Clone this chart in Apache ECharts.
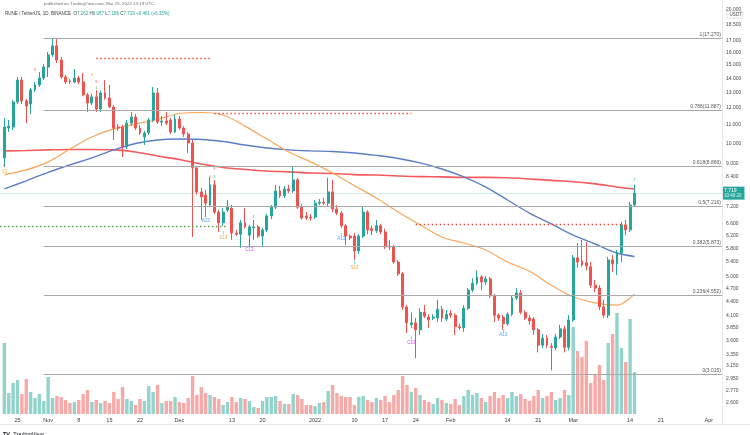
<!DOCTYPE html>
<html>
<head>
<meta charset="utf-8">
<script src="https://cdn.jsdelivr.net/npm/echarts@6/dist/echarts.min.js"></script>
<style>
html,body{margin:0;padding:0;background:#ffffff;}
#chart{width:750px;height:435px;}
</style>
</head>
<body>
<div id="chart"></div>
<script>
// ---------------- data ----------------
const symbolName = 'RUNE / TetherUS, 1D, BINANCE';
const firstCandleDate = '2021-10-22';
const axisStartDate = '2021-10-21';
const axisEndDate = '2022-04-04';

const opens = [
  9.27,10.82,10.88,12.39,13.88,12.45,12.26,13.18,13.53,14.03,
  14.85,15.81,16.57,15.40,14.10,13.81,13.74,14.03,13.74,12.85,
  12.32,12.72,11.94,12.98,12.65,12.07,10.88,10.88,9.81,11.10,
  11.46,10.82,10.33,10.55,11.28,12.98,11.16,11.22,11.28,10.60,
  11.34,10.82,10.49,10.01,8.80,7.77,7.65,7.26,8.06,7.00,
  6.62,7.07,7.14,6.28,6.24,6.62,6.21,6.45,6.48,6.18,
  6.38,6.86,7.18,7.81,7.61,7.89,7.81,8.27,7.18,6.86,
  6.82,6.82,7.33,7.37,7.33,7.77,7.11,6.96,6.52,6.18,
  6.18,5.72,6.18,7.00,6.42,6.35,6.52,6.31,5.87,5.84,
  5.40,5.08,4.28,3.90,3.94,3.80,4.16,4.06,4.04,4.04,
  4.23,4.02,4.14,4.10,3.86,3.84,4.25,4.67,4.84,5.00,
  4.87,4.95,4.53,4.10,4.06,3.92,4.12,4.48,4.60,4.16,
  4.04,4.02,3.80,3.51,3.64,3.49,3.46,3.66,3.82,3.47,
  4.00,5.52,5.43,5.38,5.27,4.79,4.72,4.28,4.10,5.46,
  5.35,5.66,6.55,6.38,7.262
];
const closes = [
  10.88,10.93,12.39,13.88,12.45,12.13,13.18,13.53,14.03,14.85,
  15.81,16.57,15.40,14.10,13.74,13.74,14.03,13.74,12.85,12.32,
  12.72,11.94,12.98,12.65,12.07,10.82,10.82,9.81,11.10,11.46,
  10.82,10.55,10.55,11.28,12.98,11.16,11.22,11.10,10.60,11.34,
  10.82,10.49,10.01,8.80,7.77,7.57,7.33,8.06,7.00,6.62,
  7.00,7.18,6.28,6.24,6.62,6.48,6.48,6.48,6.18,6.38,
  6.86,7.18,7.81,7.61,7.89,7.81,8.27,7.18,6.79,6.79,
  6.79,7.33,7.37,7.33,7.77,7.11,6.96,6.52,6.18,6.12,
  5.72,6.18,7.00,6.38,6.35,6.52,6.31,5.84,5.84,5.40,
  5.08,4.28,3.94,3.94,3.80,4.16,4.08,4.00,4.06,4.23,
  4.04,4.12,4.10,3.86,3.84,4.25,4.67,4.84,5.00,4.87,
  4.95,4.53,4.10,4.04,3.92,4.12,4.48,4.60,4.16,4.04,
  3.98,3.80,3.51,3.64,3.51,3.47,3.66,3.82,3.47,4.00,
  5.52,5.40,5.32,5.29,4.79,4.72,4.28,4.10,5.46,5.35,
  5.66,6.55,6.38,7.258,7.719
];
const lows = [
  8.85,10.60,10.71,12.26,12.26,11.10,11.64,13.05,13.39,13.88,
  14.10,15.65,15.16,13.95,13.60,13.60,13.67,13.60,12.78,11.76,
  12.19,11.76,11.76,12.52,12.00,10.17,10.66,9.31,9.71,10.93,
  10.71,10.44,9.91,10.44,11.16,11.05,10.93,10.99,10.49,10.55,
  10.71,10.33,9.51,6.15,7.65,6.72,6.82,7.18,6.93,6.31,
  6.52,7.00,6.06,6.18,5.81,6.42,5.87,6.06,6.12,5.84,
  6.31,6.75,7.11,7.53,7.53,7.73,7.73,7.11,6.72,6.72,
  6.69,6.75,7.26,7.26,7.22,7.00,6.89,6.45,5.90,6.06,
  5.46,5.63,6.12,6.24,6.21,6.28,6.24,5.78,5.75,5.35,
  5.02,4.21,3.74,3.84,3.28,3.70,4.04,3.84,4.00,3.96,
  3.96,3.98,4.04,3.70,3.80,3.76,4.21,4.62,4.79,4.67,
  4.79,4.48,3.96,3.98,3.80,3.88,4.08,4.44,4.12,4.00,
  3.90,3.70,3.38,3.46,3.46,3.08,3.42,3.62,3.38,3.42,
  3.96,5.24,5.27,5.18,4.72,4.62,4.21,4.04,4.04,5.13,
  5.05,5.40,6.21,6.31,7.186
];
const highs = [
  11.40,11.28,12.52,14.10,14.10,12.59,13.32,13.74,14.47,15.09,
  16.06,17.20,17.27,15.65,14.25,13.95,14.70,14.18,14.40,12.98,
  12.92,13.18,13.12,13.88,13.53,12.19,11.05,10.99,11.28,11.76,
  11.64,10.99,10.66,11.40,13.39,13.32,11.52,11.76,11.40,11.58,
  11.52,10.93,10.60,10.17,8.89,7.93,7.85,8.40,8.27,7.07,
  7.14,7.45,7.26,6.38,6.72,7.14,6.55,6.72,6.55,6.45,
  6.93,7.26,8.06,8.02,8.02,8.06,8.89,8.36,7.30,7.00,
  6.93,7.45,7.49,7.53,8.36,8.27,7.26,7.04,6.58,6.24,
  6.28,6.24,7.22,7.07,6.52,6.72,6.58,6.42,6.06,5.90,
  5.46,5.13,4.32,4.16,4.04,4.25,4.32,4.12,4.12,4.44,
  4.30,4.21,4.21,4.14,3.92,4.32,4.72,4.97,5.18,5.05,
  5.03,5.00,4.58,4.14,4.10,4.16,4.53,4.72,4.67,4.21,
  4.10,4.06,3.84,3.72,3.70,3.55,3.72,3.90,3.88,4.10,
  5.60,5.96,6.06,5.99,5.40,4.92,4.79,4.44,5.54,5.60,
  5.75,6.65,6.72,7.37,8.067
];
const volumes = [
  71,21,31,34,20,35,22,16,20,13,
  37,16,18,17,14,11,12,14,20,24,
  12,14,11,13,11,22,15,27,15,13,
  9,15,13,28,22,29,11,13,13,17,
  12,11,16,38,19,27,21,19,17,15,
  9,12,17,12,16,15,13,7,6,13,
  17,17,18,13,10,10,20,19,15,9,
  9,8,11,12,23,29,21,18,17,17,
  9,17,18,14,12,16,14,18,12,19,
  24,38,29,22,26,19,14,12,10,16,
  14,11,10,15,9,18,24,19,21,16,
  12,18,22,16,19,16,22,18,20,15,
  13,18,24,16,18,22,14,16,24,19,
  87,63,57,73,31,39,49,34,71,80,
  101,66,52,95,42
];

// moving averages, read every 5th day (day offsets from first candle)
const maSampleDays = [0,5,10,15,20,25,30,35,40,45,50,55,60,65,70,75,80,85,90,95,100,105,110,115,120,125,130,135,140,144];
const ma50 = [8.50,8.71,9.08,9.71,10.33,10.77,11.05,11.31,11.67,11.73,11.58,10.93,10.22,9.56,9.08,8.57,8.02,7.53,7.00,6.55,6.15,5.96,5.75,5.40,5.15,4.79,4.51,4.37,4.32,4.58];
const ma100 = [7.89,8.23,8.60,8.94,9.27,9.66,9.99,10.17,10.22,10.20,10.09,9.91,9.76,9.66,9.61,9.58,9.51,9.39,9.24,9.03,8.75,8.40,7.97,7.45,6.96,6.58,6.21,5.93,5.66,5.56];
const ma200 = [9.61,9.63,9.66,9.68,9.68,9.66,9.56,9.36,9.19,8.98,8.82,8.73,8.66,8.62,8.57,8.55,8.50,8.48,8.44,8.41,8.40,8.38,8.38,8.36,8.31,8.25,8.19,8.10,7.97,7.89];

// price axis tick labels
const priceTicks = [20,18.5,17,16,15,14,13,12,11,10,9,8.4,7.2,6.6,6.2,5.8,5.4,5,4.7,4.4,4.1,3.85,3.6,3.35,3.15,2.95,2.77,2.6];

// Fibonacci retracement
const fibStartDate = '2021-10-31';
const fibRatios = ['1','0.786','0.618','0.5','0.382','0.236','0'];
const fibPrices = [17.270,11.887,8.866,7.216,5.873,4.552,3.015];

// TD support / resistance levels
const levelStarts = ['2021-11-12','2021-12-09','2021-10-21','2022-01-24'];
const levelEnds   = ['2021-12-08','2022-01-23','2021-12-12','2022-03-12'];
const levelPrices = [15.56,11.70,6.49,6.58];
const levelKinds  = ['resistance','resistance','support','resistance'];

// TD sequential labels
const markDates  = ['2021-10-22','2021-10-22','2021-12-07','2021-12-11','2021-12-17','2022-01-07','2022-01-10','2022-01-23','2022-02-13','2022-03-15',
                    '2021-10-29','2021-11-11','2021-11-12','2021-11-12','2021-12-08','2021-12-09','2021-12-09',
                    '2021-12-07','2021-12-11','2021-12-17','2021-12-18','2022-01-07','2022-01-10','2022-01-23','2022-02-13'];
const markPrices = [8.88,8.62,6.70,6.12,5.75,6.09,5.24,3.56,3.70,8.27,
                    14.62,14.25,13.74,13.32,8.40,8.75,8.40,
                    6.85,6.28,5.87,6.82,6.22,5.38,3.64,3.78];
const markTexts  = ['9','13','A13','S13','C13','A13','S13','C13','A13','7',
                    '9','8','9','1','8','9','1',
                    '1','1','1','1','1','1','1','1'];
const markKinds  = ['sell','S','A','S','C','A','S','C','A','up',
                    'sell','S','sell','up','S','sell','up',
                    'up','up','up','up','up','up','up','up'];

// time axis labels
const timeTickDates  = ['2021-10-25','2021-11-01','2021-11-08','2021-11-15','2021-11-22','2021-12-01','2021-12-13','2021-12-20','2022-01-01','2022-01-10','2022-01-17','2022-01-24','2022-02-01','2022-02-14','2022-02-21','2022-03-01','2022-03-14','2022-03-21','2022-04-01'];
const timeTickLabels = ['25','Nov','8','15','22','Dec','13','20','2022','10','17','24','Feb','14','21','Mar','14','21','Apr'];

const countdownText = '10:40:20';
const publishedText = 'published on TradingView.com, Mar 15, 2022 13:19 UTC';

// ---------------- build ----------------
const UP = '#26a69a', DOWN = '#ef5350';
const FONT = 'Liberation Sans, Arial, sans-serif';
const DAY = 86400000;
const categories = [];
for (let t = Date.parse(axisStartDate + 'T00:00:00Z'); t <= Date.parse(axisEndDate + 'T00:00:00Z'); t += DAY) {
  categories.push(new Date(t).toISOString().slice(0, 10));
}
const lastCategory = categories[categories.length - 1];
const c0 = categories.indexOf(firstCandleDate);
const n = opens.length;

const candleData = categories.map((c, k) => {
  const i = k - c0;
  return (i >= 0 && i < n) ? [opens[i], closes[i], lows[i], highs[i]] : '-';
});
const volumeData = categories.map((c, k) => {
  const i = k - c0;
  if (i < 0 || i >= n) return '-';
  return { value: volumes[i], itemStyle: { color: closes[i] >= opens[i] ? '#92d3cc' : '#f7a9a8' } };
});
const maData = arr => maSampleDays.map((d, j) => [categories[c0 + d], arr[j]]);

const tickMap = {};
timeTickDates.forEach((d, k) => { tickMap[d] = timeTickLabels[k]; });

const lastClose = closes[n - 1];
const prevClose = closes[n - 2];
const chg = lastClose - prevClose;
const chgPct = chg / prevClose * 100;

const markColors = { A: '#42a5f5', S: '#ffa040', C: '#e040fb', up: '#26a69a', sell: '#ef5350' };

const tickLines = priceTicks.map(p => ({
  yAxis: p,
  lineStyle: { color: 'rgba(0,0,0,0)', width: 0, opacity: 1 },
  label: { show: true, position: 'end', distance: 4, formatter: p.toFixed(3), color: '#4a4a4a', fontSize: 5, fontFamily: FONT }
}));
const fibLines = fibPrices.map((p, k) => [
  { coord: [fibStartDate, p],
    lineStyle: { color: '#a8a8a8', width: 1.2, type: 'solid', opacity: 1 },
    label: { show: true, position: 'insideEndTop', distance: 1, formatter: fibRatios[k] + '(' + p.toFixed(3) + ')', color: '#555', fontSize: 5, fontFamily: FONT } },
  { coord: [lastCategory, p] }
]);
const levelLines = levelPrices.map((p, k) => [
  { coord: [levelStarts[k], p],
    lineStyle: { color: levelKinds[k] === 'support' ? '#43a047' : '#f44336', width: 1.4, type: [1.4, 2.6], opacity: 1 },
    label: { show: false } },
  { coord: [levelEnds[k], p] }
]);
const priceLine = {
  yAxis: lastClose,
  lineStyle: { color: 'rgba(38,166,154,0.22)', width: 1, type: 'solid', opacity: 1 },
  label: {
    show: true, position: 'end', distance: 0,
    formatter: '{p|' + lastClose.toFixed(3) + '}\n{t|' + countdownText + '}',
    backgroundColor: UP, padding: [1, 3, 1, 2],
    rich: {
      p: { color: '#fff', fontSize: 5, fontFamily: FONT, lineHeight: 6 },
      t: { color: '#dff3f0', fontSize: 4.5, fontFamily: FONT, lineHeight: 5 }
    }
  }
};

const markPointData = markDates.map((d, k) => ({
  coord: [d, markPrices[k]],
  symbol: 'circle', symbolSize: 0,
  label: { show: true, position: 'inside', formatter: markTexts[k], color: markColors[markKinds[k]],
           fontSize: markTexts[k].length > 1 ? 4.5 : 3.8, fontFamily: FONT }
}));

const headerRich = {
  n: { fill: '#3a3a3a', fontSize: 4.5, fontFamily: FONT },
  k: { fill: '#3a3a3a', fontSize: 4.5, fontFamily: FONT },
  v: { fill: UP, fontSize: 4.5, fontFamily: FONT }
};
const fmt = v => v.toFixed(3);
const headerText = '{n|' + symbolName + '}  {k|O}{v|' + fmt(opens[n-1]) + '} {k|H}{v|' + fmt(highs[n-1]) +
  '} {k|L}{v|' + fmt(lows[n-1]) + '} {k|C}{v|' + fmt(lastClose) + '} {v|' + (chg >= 0 ? '+' : '') + chg.toFixed(3) +
  ' (' + (chg >= 0 ? '+' : '') + chgPct.toFixed(2) + '%)}';

const chart = echarts.init(document.getElementById('chart'), null, { renderer: 'canvas' });
chart.setOption({
  animation: false,
  backgroundColor: '#ffffff',
  grid: [
    { left: 0, right: 28, top: 0, bottom: 21 },
    { left: 0, right: 28, top: 300, bottom: 21 }
  ],
  xAxis: [
    { type: 'category', data: categories, gridIndex: 0, boundaryGap: false,
      axisLine: { show: false }, axisTick: { show: false }, axisLabel: { show: false }, splitLine: { show: false } },
    { type: 'category', data: categories, gridIndex: 1, boundaryGap: false,
      axisLine: { show: false }, axisTick: { show: false }, splitLine: { show: false },
      axisLabel: {
        show: true, margin: 3, fontSize: 5.5, color: '#3d3d3d', fontFamily: FONT,
        interval: (idx, val) => tickMap[val] !== undefined,
        formatter: val => tickMap[val] || ''
      } }
  ],
  yAxis: [
    { type: 'log', gridIndex: 0, min: 2.456, max: 21.02, logBase: 10,
      axisLine: { show: false }, axisTick: { show: false }, axisLabel: { show: false }, splitLine: { show: false } },
    { type: 'value', gridIndex: 1, min: 0, max: 114,
      axisLine: { show: false }, axisTick: { show: false }, axisLabel: { show: false }, splitLine: { show: false } }
  ],
  series: [
    { name: 'Volume', type: 'bar', xAxisIndex: 1, yAxisIndex: 1, data: volumeData, barWidth: 3.4, z: 1 },
    { name: 'MA200', type: 'line', data: maData(ma200), smooth: 0.35, symbol: 'none',
      lineStyle: { color: '#f45b5b', width: 1.6 }, z: 3 },
    { name: 'MA100', type: 'line', data: maData(ma100), smooth: 0.35, symbol: 'none',
      lineStyle: { color: '#5b7fc7', width: 1.4 }, z: 3 },
    { name: 'MA50', type: 'line', data: maData(ma50), smooth: 0.35, symbol: 'none',
      lineStyle: { color: '#f9a65a', width: 1.2 }, z: 3 },
    { name: 'RUNE/USDT', type: 'candlestick', data: candleData, barWidth: 2.4, z: 4,
      itemStyle: { color: UP, color0: DOWN, borderColor: UP, borderColor0: DOWN, borderWidth: 1 },
      markLine: {
        silent: true, symbol: ['none', 'none'], animation: false,
        data: [].concat(fibLines, levelLines, tickLines, [priceLine])
      },
      markPoint: { silent: true, animation: false, data: markPointData }
    }
  ],
  graphic: [
    { type: 'line', z: 10, shape: { x1: 722.5, y1: 0, x2: 722.5, y2: 424 }, style: { stroke: '#e6e8ee', lineWidth: 1 } },
    { type: 'line', z: 10, shape: { x1: 0, y1: 424.5, x2: 750, y2: 424.5 }, style: { stroke: '#e6e8ee', lineWidth: 1 } },
    { type: 'text', z: 20, left: 44, top: 1.5, style: { text: publishedText, fill: '#707070', fontSize: 4.4, fontFamily: FONT } },
    { type: 'text', z: 20, left: 5, top: 11.5, style: { text: headerText, rich: headerRich, fontSize: 4.5, fontFamily: FONT } },
    { type: 'rect', z: 20, shape: { x: 727, y: 11, width: 16, height: 7, r: 1 }, style: { fill: '#ffffff', stroke: '#c9ccd3', lineWidth: 0.6 } },
    { type: 'text', z: 21, left: 729.5, top: 12, style: { text: 'USDT', fill: '#4a4a4a', fontSize: 4.6, fontFamily: FONT } },
    { type: 'text', z: 20, left: 3, top: 428, style: { text: '{l|TV} {t|TradingView}', rich: {
        l: { fill: '#131722', fontSize: 5.5, fontWeight: 'bold', fontFamily: FONT },
        t: { fill: '#131722', fontSize: 5.5, fontFamily: FONT } } } }
  ]
});
</script>
</body>
</html>
